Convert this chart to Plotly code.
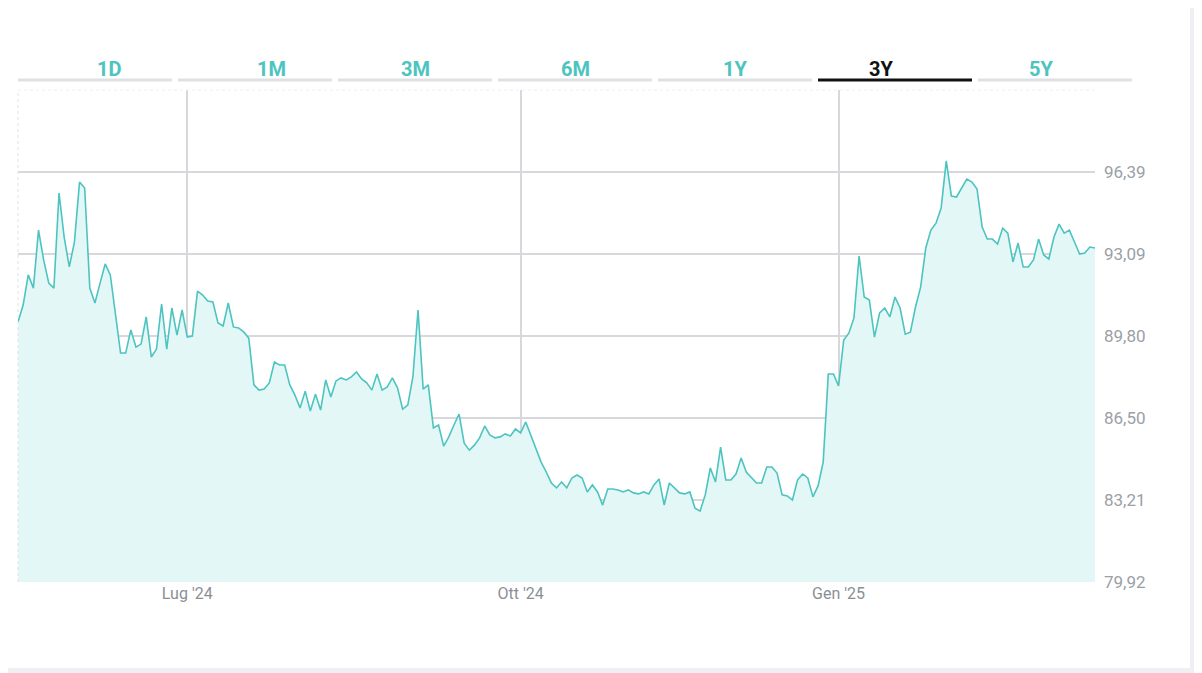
import plotly.graph_objects as go

# closing prices, one per trading session
price = [
    90.37, 91.05, 92.26, 91.73, 94.06, 92.86, 91.93, 91.73, 95.55, 93.78,
    92.58, 93.58, 95.99, 95.75, 91.73, 91.13, 91.93, 92.70, 92.26, 90.57,
    89.12, 89.12, 90.05, 89.36, 89.48, 90.57, 88.96, 89.28, 91.09, 89.28,
    90.93, 89.84, 90.85, 89.76, 89.80, 91.61, 91.45, 91.21, 91.17, 90.33,
    90.21, 91.13, 90.17, 90.13, 89.97, 89.72, 87.84, 87.63, 87.67, 87.92,
    88.76, 88.64, 88.64, 87.84, 87.43, 86.91, 87.59, 86.79, 87.47, 86.83,
    88.04, 87.35, 88.00, 88.12, 88.04, 88.16, 88.36, 88.08, 87.92, 87.63,
    88.28, 87.63, 87.76, 88.12, 87.72, 86.87, 87.03,
    88.16, 90.85, 87.67, 87.84, 86.11, 86.23, 85.38, 85.75, 86.23, 86.67,
    85.50, 85.22, 85.42, 85.71, 86.19, 85.83, 85.71, 85.75, 85.87, 85.79,
    86.07, 85.91, 86.35, 85.83, 85.30, 84.74, 84.34, 83.90, 83.70, 83.94,
    83.70, 84.10, 84.22, 84.10, 83.54, 83.82, 83.54, 83.01, 83.66, 83.66,
    83.62, 83.54, 83.62, 83.50, 83.46, 83.54, 83.46, 83.82, 84.06, 83.01,
    83.90, 83.70, 83.50, 83.46, 83.54, 82.89, 82.77, 83.42, 84.50, 83.94,
    85.34, 84.02, 84.02, 84.26, 84.90, 84.34, 84.10, 83.90, 83.90, 84.54,
    84.54, 84.30, 83.42, 83.38, 83.21, 84.02, 84.26, 84.10, 83.34, 83.78,
    84.74, 88.28, 88.28, 87.80, 89.64, 89.92,
    90.53, 93.02, 91.37, 91.25, 89.76, 90.73, 90.93, 90.57, 91.37, 90.93,
    89.88, 89.96, 90.97, 91.77, 93.34, 94.06, 94.34, 94.95, 96.84, 95.43,
    95.39, 95.75, 96.11, 95.99, 95.71, 94.18, 93.70, 93.70, 93.50, 94.14,
    93.94, 92.78, 93.54, 92.58, 92.58, 92.86, 93.70, 93.06, 92.90, 93.78,
    94.30, 93.94, 94.06, 93.58, 93.10, 93.14, 93.38, 93.34,
]
session = list(range(len(price)))

month_sessions = [33, 98, 160]
month_labels = ["Lug '24", "Ott '24", "Gen '25"]
y_ticks = [79.92, 83.21, 86.50, 89.80, 93.09, 96.39]
y_labels = ["79,92", "83,21", "86,50", "89,80", "93,09", "96,39"]
tabs = ["1D", "1M", "3M", "6M", "1Y", "3Y", "5Y"]
active_tab = "3Y"

W, H = 1202, 673
OFF = 8  # page body margin
L, R, T, B = 18 - OFF, 1095 - OFF, 90 - OFF, 582 - OFF


def px_x(p):
    return (p - OFF - L) / (R - L)


def px_y(p):
    return (B - (p - OFF)) / (B - T)


teal = "#4dc4c0"
fig = go.Figure(go.Scatter(
    x=session, y=price, mode="lines",
    line=dict(color=teal, width=1.6),
    fill="tozeroy", fillcolor="#e3f7f7",
    hoverinfo="skip",
))

shapes = []
annotations = []
for i, t in enumerate(tabs):
    x0 = 18 + i * 160
    x1 = x0 + 154
    on = t == active_tab
    shapes.append(dict(type="line", xref="paper", yref="paper",
                       x0=px_x(x0), x1=px_x(x1), y0=px_y(80), y1=px_y(80),
                       line=dict(color="#111111" if on else "#dde1e6", width=3)))
    annotations.append(dict(text="<b>" + t + "</b>", xref="paper", yref="paper",
                            x=px_x((x0 + x1) / 2), y=px_y(55), showarrow=False,
                            font=dict(family="Roboto", size=20,
                                      color="#111111" if on else teal)))

# light grey page frame at right and bottom
shapes.append(dict(type="rect", xref="paper", yref="paper", layer="below",
                   x0=px_x(1190), x1=px_x(1215), y0=px_y(690), y1=px_y(0),
                   fillcolor="#eef0f3", line=dict(width=0)))
shapes.append(dict(type="rect", xref="paper", yref="paper", layer="below",
                   x0=px_x(0), x1=px_x(1215), y0=px_y(690), y1=px_y(668),
                   fillcolor="#eef0f3", line=dict(width=0)))
# faint borders of plot
shapes.append(dict(type="line", xref="paper", yref="paper",
                   x0=0, x1=1, y0=1, y1=1, line=dict(color="#eceef0", width=1, dash="dot")))
shapes.append(dict(type="line", xref="paper", yref="paper",
                   x0=0, x1=0, y0=0, y1=1, line=dict(color="#dfe2e6", width=1, dash="dot")))

fig.update_layout(
    width=W, height=H,
    margin=dict(l=L, r=W - R, t=T, b=H - B),
    paper_bgcolor="white", plot_bgcolor="white",
    showlegend=False,
    shapes=shapes, annotations=annotations,
    font=dict(family="Roboto", color="#9aa0a6"),
)
fig.update_xaxes(range=[0, len(price) - 1], tickvals=month_sessions, ticktext=month_labels,
                 showgrid=True, gridcolor="#d6d8db", gridwidth=1.5, zeroline=False,
                 ticks="", tickfont=dict(size=16, color="#8a8f95"), showline=False)
fig.update_yaxes(range=[79.92, 99.69], side="right", tickvals=y_ticks, ticktext=y_labels,
                 showgrid=True, gridcolor="#d6d8db", gridwidth=1.5, zeroline=False,
                 ticks="", ticklabelstandoff=8, tickfont=dict(size=17, color="#9aa0a6"))

fig.write_html("out.html")
